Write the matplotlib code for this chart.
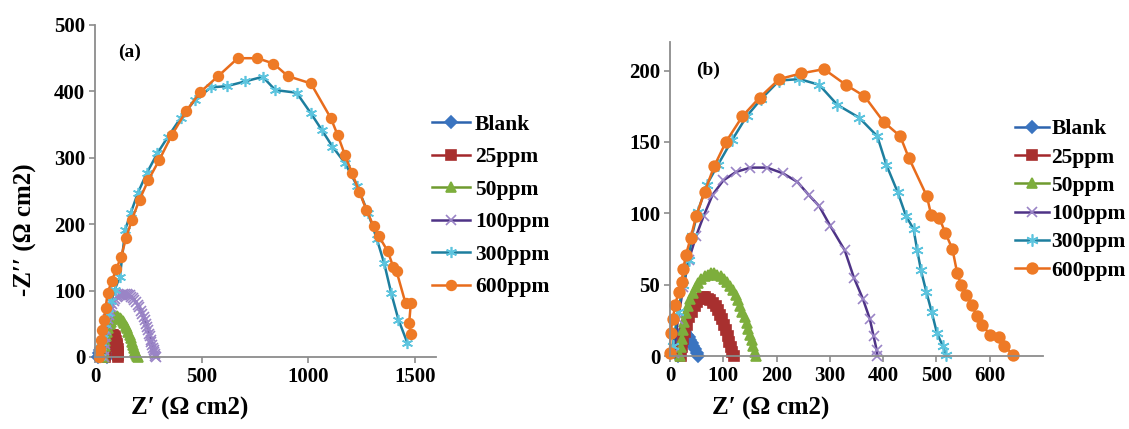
import matplotlib
matplotlib.use("Agg")
import matplotlib.pyplot as plt

plt.rcParams['font.family'] = ['Liberation Serif', 'DejaVu Serif']
plt.rcParams['font.weight'] = 'bold'

labels = ["Blank", "25ppm", "50ppm", "100ppm", "300ppm", "600ppm"]

# ---------------- Panel (a) ----------------
a_blank_x = [15, 19, 24, 30, 36, 42, 48, 53, 57]
a_blank_y = [0, 6, 11, 14, 15, 13, 9, 4, 0]
a_25_x = [48, 50, 53, 56, 60, 64, 68, 73, 78, 83, 88, 92, 96, 99, 102, 104, 106, 108, 109, 110]
a_25_y = [0, 8, 16, 22, 27, 30, 32, 33, 33, 33, 32, 30, 27, 24, 20, 16, 12, 7, 3, 0]
a_50_x = [40, 42, 45, 49, 53, 58, 63, 69, 75, 82, 89, 96, 103, 110, 117, 124, 131, 138, 144, 150,
          156, 162, 167, 172, 177, 182, 187, 192, 197, 203]
a_50_y = [0, 8, 16, 24, 31, 38, 44, 49, 53, 57, 59, 61, 61, 60, 59, 57, 54, 51, 47, 43,
          38, 33, 28, 23, 18, 13, 9, 5, 2, 0]
a_100_x = [40, 42, 45, 48, 52, 56, 60, 65, 70, 76, 82, 88, 95, 102, 110, 118, 125, 133, 140, 148,
           155, 163, 170, 178, 185, 193, 200, 208, 215, 222, 228, 234, 240, 245, 250, 254, 258, 262,
           265, 269, 272, 275, 278, 280, 282, 285]
a_100_y = [0, 10, 20, 30, 40, 49, 57, 64, 70, 75, 80, 84, 87, 90, 92, 93, 94, 95, 95, 95,
           94, 93, 91, 89, 86, 83, 79, 75, 70, 65, 60, 55, 50, 45, 40, 35, 31, 26,
           22, 18, 14, 10, 7, 4, 2, 0]
a_300_x = [25, 30, 38, 47, 59, 75, 92, 117, 142, 168, 201, 243, 293, 343, 402, 469, 544, 620, 704, 787,
           846, 946, 1013, 1064, 1114, 1173, 1231, 1281, 1323, 1357, 1390, 1424, 1466]
a_300_y = [0, 15, 35, 50, 66, 84, 101, 121, 192, 217, 247, 277, 307, 332, 360, 387, 406, 408, 415, 422,
           402, 398, 367, 342, 317, 292, 257, 217, 177, 141, 96, 56, 21]
a_600_x = [20, 24, 29, 35, 42, 50, 59, 79, 100, 122, 146, 173, 209, 251, 302, 360, 427, 494, 578, 670, 762,
           837, 905, 1013, 1106, 1139, 1173, 1206, 1240, 1273, 1307, 1332, 1374, 1399, 1415, 1457, 1482,
           1474, 1482]
a_600_y = [0, 12, 25, 40, 56, 74, 96, 115, 132, 151, 179, 207, 237, 267, 297, 334, 370, 399, 423, 450, 450,
           442, 423, 412, 360, 334, 304, 277, 249, 222, 197, 182, 159, 136, 129, 81, 81, 51, 34]

# ---------------- Panel (b) ----------------
b_blank_x = [15, 17, 20, 23, 26, 29, 32, 35, 38, 41, 44, 47, 50, 53]
b_blank_y = [0, 6, 12, 16, 18, 17, 15, 13, 11, 9, 7, 5, 2, 0]
b_25_x = [20, 22, 25, 28, 32, 36, 41, 46, 51, 56, 61, 66, 71, 76, 81, 86, 90, 94, 98, 102,
          105, 108, 111, 114, 117, 120]
b_25_y = [0, 6, 12, 17, 22, 27, 31, 35, 38, 40, 41, 41, 40, 39, 37, 35, 32, 29, 26, 22,
          18, 14, 10, 6, 3, 0]
b_50_x = [18, 20, 22, 24, 27, 30, 34, 38, 43, 48, 53, 59, 65, 71, 77, 83, 89, 95, 101, 107,
          113, 118, 123, 128, 132, 136, 140, 144, 147, 150, 153, 156, 159, 161]
b_50_y = [0, 6, 12, 18, 24, 30, 35, 40, 44, 48, 51, 54, 56, 57, 58, 58, 57, 56, 54, 52,
          49, 46, 43, 39, 35, 31, 27, 23, 19, 15, 11, 7, 3, 0]
b_100_x = [7, 15, 25, 35, 49, 63, 80, 100, 124, 151, 182, 212, 239, 260, 280, 301, 328, 345, 362, 375, 382, 388, 389]
b_100_y = [2, 26, 48, 67, 84, 98, 113, 123, 129, 132, 132, 128, 122, 113, 105, 91, 74, 55, 40, 26, 14, 4, 0]
b_300_x = [5, 15, 25, 35, 41, 52, 69, 90, 116, 144, 171, 205, 243, 280, 314, 355, 389, 406, 427, 443, 457,
           464, 471, 481, 491, 501, 512, 518]
b_300_y = [7, 31, 50, 67, 84, 101, 120, 134, 151, 168, 180, 193, 194, 190, 176, 167, 154, 134, 115, 98, 89,
           74, 60, 45, 31, 16, 7, 1]
b_600_x = [0, 1, 5, 10, 16, 22, 25, 30, 39, 49, 65, 83, 105, 136, 168, 205, 246, 289, 330, 365, 401, 432,
           448, 482, 490, 505, 517, 530, 539, 546, 556, 566, 576, 586, 600, 617, 627, 644]
b_600_y = [2, 16, 26, 36, 45, 52, 61, 71, 83, 98, 115, 133, 150, 168, 181, 194, 198, 201, 190, 182, 164, 154,
           139, 112, 99, 97, 86, 75, 58, 50, 43, 36, 28, 22, 15, 13, 7, 1]

a_data = [(a_blank_x, a_blank_y), (a_25_x, a_25_y), (a_50_x, a_50_y),
          (a_100_x, a_100_y), (a_300_x, a_300_y), (a_600_x, a_600_y)]
b_data = [(b_blank_x, b_blank_y), (b_25_x, b_25_y), (b_50_x, b_50_y),
          (b_100_x, b_100_y), (b_300_x, b_300_y), (b_600_x, b_600_y)]

line_colors = ['#2D64AE', '#A3272B', '#6F9B2F', '#4E3386', '#1D7E9E', '#E86C1C']
mark_colors = ['#3A74C0', '#A8302F', '#7DAE3C', '#9A84C6', '#5CC4DE', '#EE7A26']
markers = ['D', 's', '^', 'x', (6, 2, 0), 'o']
msizes = [6, 6.5, 7, 7, 8, 7]

W, H = 1129, 429
fig = plt.figure(figsize=(W / 100, H / 100), dpi=100)
axA = fig.add_axes([95 / W, 1 - 357 / H, 341 / W, 332 / H])
axB = fig.add_axes([670 / W, 1 - 356 / H, 373 / W, 314 / H])

def draw(ax, data, ms_scale):
    handles = []
    for (x, y), lab, lc, mc, mk, ms in zip(data, labels, line_colors, mark_colors, markers, msizes):
        h, = ax.plot(x, y, color=lc, lw=1.8, marker=mk, markersize=ms * ms_scale,
                     markerfacecolor=mc, markeredgecolor=mc, markeredgewidth=1.2,
                     label=lab, clip_on=False)
        handles.append(h)
    for s in ['top', 'right']:
        ax.spines[s].set_visible(False)
    for s in ['left', 'bottom']:
        ax.spines[s].set_color('#8C8C8C')
        ax.spines[s].set_linewidth(1.3)
    ax.tick_params(axis='both', direction='out', length=4, width=1.2, color='#8C8C8C',
                   labelsize=15, pad=3)
    return handles

hA = draw(axA, a_data, 1.0)
axA.set_xlim(0, 1600)
axA.set_ylim(0, 500)
axA.set_xticks([0, 500, 1000, 1500])
axA.set_yticks([0, 100, 200, 300, 400, 500])

hB = draw(axB, b_data, 1.1)
axB.set_xlim(0, 700)
axB.set_ylim(0, 220)
axB.set_xticks([0, 100, 200, 300, 400, 500, 600])
axB.set_yticks([0, 50, 100, 150, 200])

for ax in (axA, axB):
    for t in ax.get_xticklabels() + ax.get_yticklabels():
        t.set_fontweight('bold')
        t.set_fontsize(15)

fig.legend(handles=hA, loc='center left', bbox_to_anchor=(432 / W, 1 - 206 / H),
           frameon=False, borderpad=0, borderaxespad=0, handlelength=1.75,
           handletextpad=0.25, labelspacing=0.58, prop={'size': 15.5, 'weight': 'bold'})
fig.legend(handles=hB, loc='center left', bbox_to_anchor=(1015 / W, 1 - 200 / H),
           frameon=False, borderpad=0, borderaxespad=0, handlelength=1.6,
           handletextpad=0.1, labelspacing=0.38, prop={'size': 15.5, 'weight': 'bold'})

fig.text(130 / W, 1 - 52 / H, "(a)", fontsize=14, fontweight='bold', ha='center', va='center')
fig.text(708 / W, 1 - 70 / H, "(b)", fontsize=14, fontweight='bold', ha='center', va='center')

fig.text(25 / W, 1 - 230 / H, "-Z\u2032\u2032 (\u03a9 cm2)", fontsize=18, fontweight='bold',
         rotation=90, ha='center', va='center')
fig.text(190 / W, 1 - 408 / H, "Z\u2032 (\u03a9 cm2)", fontsize=18, fontweight='bold',
         ha='center', va='center')
fig.text(771 / W, 1 - 408 / H, "Z\u2032 (\u03a9 cm2)", fontsize=18, fontweight='bold',
         ha='center', va='center')

fig.savefig("out.png", dpi=100, facecolor='white')
